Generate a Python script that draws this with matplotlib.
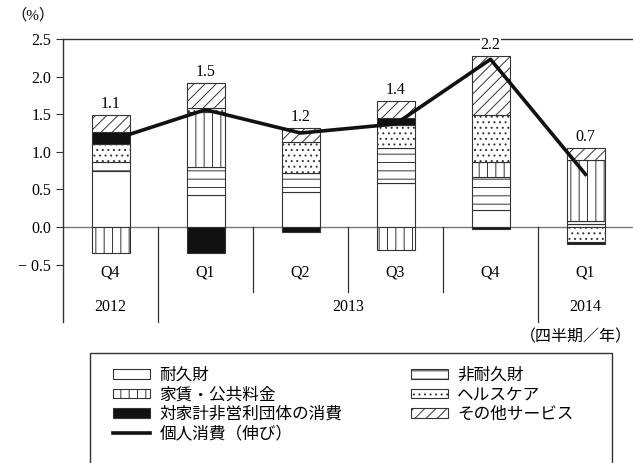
import numpy as np
import matplotlib.pyplot as plt
from matplotlib.patches import Patch, Rectangle
from matplotlib.lines import Line2D

plt.rcParams['font.family'] = ['Liberation Serif', 'Noto Sans CJK JP']
plt.rcParams['hatch.linewidth'] = 0.7
plt.rcParams['hatch.color'] = '#222222'

quarters = ['Q4', 'Q1', 'Q2', 'Q3', 'Q4', 'Q1']
years = ['2012', '2013', '2014']

# contributions (%pt)
durable = [0.74, 0.43, 0.46, 0.58, 0.22, 0.04]
nondurable = [0.12, 0.37, 0.26, 0.47, 0.44, 0.04]
rent = [-0.35, 0.73, 0.0, -0.31, 0.20, 0.81]
health = [0.24, 0.05, 0.41, 0.30, 0.63, -0.20]
npish = [0.17, -0.35, -0.06, 0.10, -0.03, -0.03]
other = [0.22, 0.33, 0.18, 0.23, 0.78, 0.16]
growth = [1.15, 1.56, 1.25, 1.37, 2.23, 0.70]
growth_labels = ['1.1', '1.5', '1.2', '1.4', '2.2', '0.7']

fig = plt.figure(figsize=(6.33, 4.63), dpi=100)
ax = fig.add_axes([63/633, 1 - 322/463, 570/633, (322 - 39)/463])

x = np.arange(len(quarters))
series = [
    ('耐久財', durable, 'white', ''),
    ('非耐久財', nondurable, 'white', '--'),
    ('家賃・公共料金', rent, 'white', '||'),
    ('ヘルスケア', health, 'white', '...'),
    ('対家計非営利団体の消費', npish, '#111111', ''),
    ('その他サービス', other, 'white', '///'),
]

pos = np.zeros(len(x))
neg = np.zeros(len(x))
handles = {}
for name, vals, fc, hatch in series:
    vals = np.array(vals)
    bottom = np.where(vals >= 0, pos, neg)
    ax.bar(x, vals, 0.4, bottom=bottom, color=fc, hatch=hatch,
           edgecolor='#333333', linewidth=0.8, zorder=3)
    pos = pos + np.clip(vals, 0, None)
    neg = neg + np.clip(vals, None, 0)
    handles[name] = Patch(facecolor=fc, hatch=hatch, edgecolor='#333333', linewidth=0.8)

ax.plot(x, growth, color='#111111', lw=2.6, zorder=5)

for i in x:
    ax.text(i, pos[i] + 0.04, growth_labels[i], ha='center', va='bottom',
            fontsize=11.5, zorder=6, clip_on=False,
            bbox=dict(facecolor='white', edgecolor='none', pad=0.5))

ax.axhline(0, color='#777777', lw=1.0, zorder=2)

ax.set_xlim(-0.5, 5.5)
ax.set_ylim(-1.263, 2.5)
ax.set_yticks(np.arange(-0.5, 2.51, 0.5))
ax.set_yticklabels([f'{v:.1f}'.replace('-', '− ') for v in np.arange(-0.5, 2.51, 0.5)],
                   fontsize=11.5)
ax.set_xticks([])
ax.tick_params(axis='y', length=5, width=0.8, color='#333333')
ax.spines['right'].set_visible(False)
ax.spines['bottom'].set_visible(False)
for s in ['left', 'top']:
    ax.spines[s].set_color('#333333')
    ax.spines[s].set_linewidth(1.0)

# category area below the zero line
for s in [1.5, 2.5, 3.5]:
    ax.plot([s, s], [0, -0.864], color='#333333', lw=0.9, clip_on=False, zorder=2)
for s in [0.5, 4.5]:
    ax.plot([s, s], [0, -1.263], color='#333333', lw=0.9, clip_on=False, zorder=2)
for i, q in enumerate(quarters):
    ax.text(i, -0.61, q, ha='center', va='center', fontsize=11.5)
for xp, yr in zip([0, 2.5, 5], years):
    ax.text(xp, -1.064, yr, ha='center', va='center', fontsize=11.5)

fig.text(33/633, 1 - 15/463, '（%）', ha='center', va='center', fontsize=11)
fig.text(632/633, 1 - 337/463, '（四半期／年）', ha='right', va='center', fontsize=11.5)

# legend frame runs off the bottom edge
fig.patches.append(Rectangle((90/633, -0.05), (612 - 90)/633, 0.05 + 1 - 352.7/463,
                             transform=fig.transFigure, facecolor='white',
                             edgecolor='#333333', linewidth=1.0))

leg_handles = [handles['耐久財'], handles['家賃・公共料金'], handles['対家計非営利団体の消費'],
               Line2D([0], [0], color='#111111', lw=2.6),
               handles['非耐久財'], handles['ヘルスケア'], handles['その他サービス']]
leg_labels = ['耐久財', '家賃・公共料金', '対家計非営利団体の消費', '個人消費（伸び）',
              '非耐久財', 'ヘルスケア', 'その他サービス']
leg = fig.legend(leg_handles, leg_labels, ncol=2, loc='upper left',
                 bbox_to_anchor=(112.7/633, 1 - 368/463),
                 fontsize=12, frameon=False, borderaxespad=0, borderpad=0,
                 handlelength=2.25, handleheight=0.5,
                 labelspacing=0.2, handletextpad=0.55, columnspacing=4.1)

fig.savefig('out.png', dpi=100)
